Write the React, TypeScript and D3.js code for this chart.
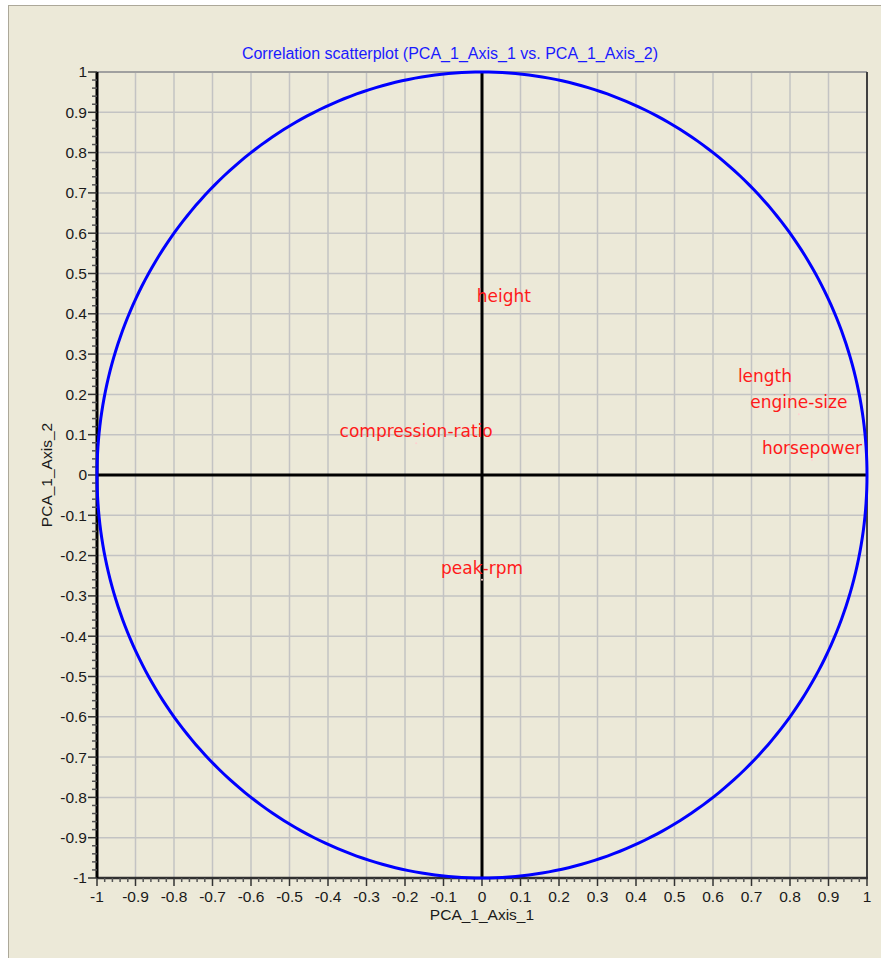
import * as d3 from "d3";
import React from "react";

// correlation of each variable with the two PCA axes
const variables = ["height", "length", "engine-size", "horsepower", "compression-ratio", "peak-rpm"];
const axis1 = [0.057, 0.735, 0.823, 0.857, -0.171, 0.0];
const axis2 = [0.414, 0.216, 0.151, 0.037, 0.079, -0.26];

const title = "Correlation scatterplot (PCA_1_Axis_1 vs. PCA_1_Axis_2)";
const xTitle = "PCA_1_Axis_1";
const yTitle = "PCA_1_Axis_2";

const width = 881;
const height = 958;
const left = 97;
const right = 867;
const top = 72;
const bottom = 878;

export default function App() {
  const x = d3.scaleLinear().domain([-1, 1]).range([left, right]);
  const y = d3.scaleLinear().domain([-1, 1]).range([bottom, top]);

  const major = x.ticks(20);
  const minor = x.ticks(80).filter((t) => !major.some((m) => Math.abs(m - t) < 1e-9));
  const fmt = (d: number) => String(+d.toFixed(1));

  // unit circle, drawn in data space
  const circle = d3
    .line<number>()
    .x((a) => x(Math.cos(a)))
    .y((a) => y(Math.sin(a)))
    .curve(d3.curveLinearClosed)(d3.range(0, 2 * Math.PI, Math.PI / 180));

  const tickFont = { fontFamily: "Liberation Sans, Arial, sans-serif", fontSize: 15.5, fill: "#1a1a1a" };

  return (
    <svg width={width} height={height} style={{ position: "absolute", left: 0, top: 0, background: "#fff" }}>
      <rect x={8.5} y={5.5} width={width} height={height} fill="#ece9d8" stroke="#aca899" />

      <text x={450} y={59} textAnchor="middle" fill="#1a1aff"
        style={{ fontFamily: "Liberation Sans, Arial, sans-serif", fontSize: 16 }}>
        {title}
      </text>

      {/* grid */}
      {major.map((t) => (
        <g key={"g" + t}>
          <line x1={x(t)} x2={x(t)} y1={top} y2={bottom} stroke="#c3c3c3" strokeWidth={1.5} />
          <line x1={left} x2={right} y1={y(t)} y2={y(t)} stroke="#c3c3c3" strokeWidth={1.5} />
        </g>
      ))}

      {/* frame */}
      <line x1={left} x2={right} y1={top} y2={top} stroke="#a0a0a0" strokeWidth={2} />
      <line x1={right} x2={right} y1={top} y2={bottom} stroke="#404040" strokeWidth={2} />
      <line x1={left} x2={right + 1} y1={bottom} y2={bottom} stroke="#303030" strokeWidth={2.5} />
      <line x1={left} x2={left} y1={top} y2={bottom} stroke="#000" strokeWidth={3} />

      {/* y axis ticks */}
      {major.map((t) => (
        <g key={"yt" + t}>
          <line x1={left - 9} x2={left} y1={y(t)} y2={y(t)} stroke="#333" strokeWidth={1.5} />
          <text x={left - 10} y={y(t)} dy="0.35em" textAnchor="end" style={tickFont}>{fmt(t)}</text>
        </g>
      ))}
      {minor.map((t) => (
        <line key={"ym" + t} x1={left - 5} x2={left} y1={y(t)} y2={y(t)} stroke="#555" strokeWidth={1.5} />
      ))}

      {/* x axis ticks */}
      {major.map((t) => (
        <g key={"xt" + t}>
          <line x1={x(t)} x2={x(t)} y1={bottom} y2={bottom + 8} stroke="#333" strokeWidth={1.5} />
          <text x={x(t)} y={bottom + 24} textAnchor="middle" style={tickFont}>{fmt(t)}</text>
        </g>
      ))}
      {minor.map((t) => (
        <line key={"xm" + t} x1={x(t)} x2={x(t)} y1={bottom} y2={bottom + 4} stroke="#555" strokeWidth={1.5} />
      ))}

      <text x={(left + right) / 2} y={920} textAnchor="middle" style={tickFont}>{xTitle}</text>
      <text transform={`translate(52,${(top + bottom) / 2}) rotate(-90)`} textAnchor="middle" style={tickFont}>
        {yTitle}
      </text>

      {/* origin axes */}
      <line x1={x(0)} x2={x(0)} y1={top} y2={bottom} stroke="#000" strokeWidth={3} />
      <line x1={left} x2={right} y1={y(0)} y2={y(0)} stroke="#000" strokeWidth={3} />

      <path d={circle ?? ""} fill="none" stroke="#0000ff" strokeWidth={3} />

      {variables.map((v, i) => (
        <g key={v}>
          <circle cx={x(axis1[i])} cy={y(axis2[i])} r={1} fill="#ffd0d0" />
          <text x={x(axis1[i])} y={y(axis2[i]) - 6} textAnchor="middle" fill="#ff1a1a"
            style={{ fontFamily: "DejaVu Sans, sans-serif", fontSize: 17 }}>
            {v}
          </text>
        </g>
      ))}
    </svg>
  );
}
